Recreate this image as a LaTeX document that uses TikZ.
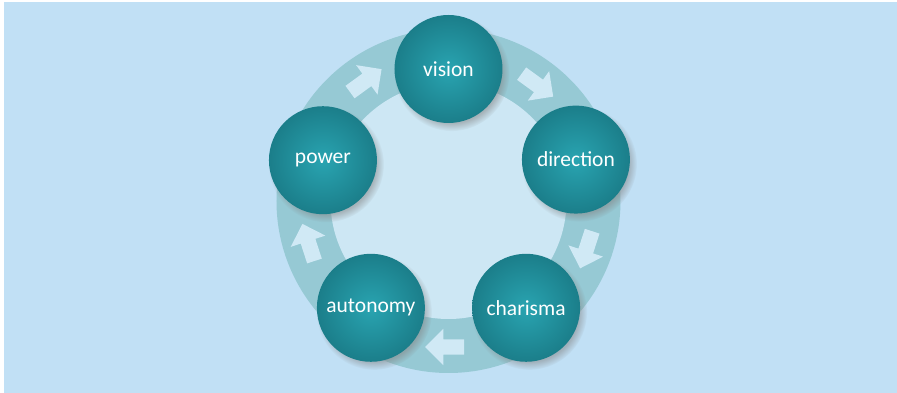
\documentclass[tikz,border=0pt]{standalone}
\usepackage{fontspec}
\setmainfont{Carlito}
\usetikzlibrary{shapes.arrows,shadows}
\definecolor{bgblue}{HTML}{C1E0F5}
\definecolor{innerblue}{HTML}{CDE7F4}
\definecolor{ringblue}{HTML}{96C9D4}
\definecolor{arrowblue}{HTML}{D0E9F5}
\definecolor{tealin}{HTML}{29A4B1}
\definecolor{tealout}{HTML}{1B7E8A}
\tikzset{
  bubble/.style={circle, minimum size=108pt, inner sep=0pt,
    shade, inner color=tealin, outer color=tealout, text=white,
    font=\fontsize{21.5}{25}\selectfont,
    circular drop shadow={shadow xshift=3pt, shadow yshift=-4pt,
      shadow scale=1.07, opacity=.5}},
  cyclearrow/.style={single arrow, fill=arrowblue, inner xsep=0pt,
    inner ysep=7.5pt, single arrow head extend=10.5pt, minimum height=39pt}
}

\begin{document}
\begin{tikzpicture}[x=1pt,y=1pt]
\useasboundingbox (-448.5,-192) rectangle (448.5,201);
\fill[white] (-448.5,-192) rectangle (448.5,201);
\fill[bgblue] (-444.5,-192) rectangle (448.5,199);
\coordinate (O) at (0,0);
% ring and inner disc
\fill[ringblue] (O) circle (172);
\fill[innerblue] (O) circle (118);
% arrows, clockwise
\foreach \a [count=\i] in {54,-18,-90,-162,126}
  \node[cyclearrow, rotate=\a-90] (arr\i) at (\a:146) {};
% the five circles
\node[bubble] (vision) at (90:132) {vision};
\node[bubble] (direction) at (18:134) {direction};
\node[bubble] (charisma) at (-54:132) {charisma};
\node[bubble] (autonomy) at (-126:132) {autonomy};
\node[bubble] (power) at (162:132) {power};
\end{tikzpicture}
\end{document}
